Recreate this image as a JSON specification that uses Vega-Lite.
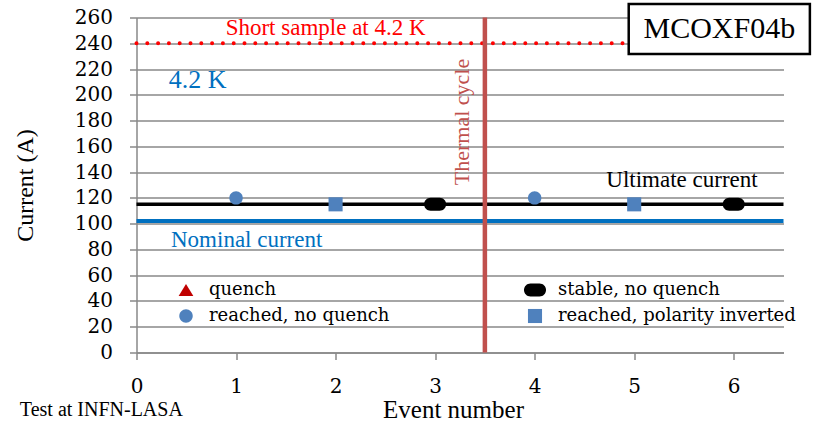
{
  "$schema": "https://vega.github.io/schema/vega-lite/v6.json",
  "width": 647,
  "height": 335,
  "autosize": {"type": "none"},
  "padding": {"left": 136.5, "top": 17.5, "right": 35.5, "bottom": 70.5},
  "background": "white",
  "config": {
    "view": {"stroke": null},
    "font": "Liberation Serif",
    "text": {"font": "Liberation Serif"},
    "axis": {"labelFont": "DejaVu Serif", "labelFontSize": 20},
    "legend": {"labelFont": "DejaVu Serif", "labelFontSize": 18}
  },
  "encoding": {
    "x": {
      "field": "event", "type": "quantitative",
      "scale": {"domain": [0, 6.5], "nice": false, "zero": false},
      "axis": {
        "tickCount": 7, "grid": false, "labelFlush": false, "format": "d",
        "labelFontSize": 20, "labelColor": "black", "labelPadding": 17,
        "domainColor": "#898989", "domainWidth": 1.5, "tickColor": "#898989", "tickWidth": 1.5, "tickSize": 7,
        "title": "Event number", "titleFont": "Liberation Serif", "titleFontSize": 25, "titleFontWeight": "normal", "titleColor": "black",
        "titleX": 316.5, "titleY": 57, "titleBaseline": "middle", "titleAlign": "center"
      }
    },
    "y": {
      "field": "current", "type": "quantitative",
      "scale": {"domain": [0, 260], "nice": false, "zero": true},
      "axis": {
        "tickCount": 13, "grid": true, "labelOverlap": false, "format": "d",
        "labelFontSize": 20, "labelColor": "black", "labelPadding": 17,
        "domainColor": "#898989", "domainWidth": 1.5, "tickColor": "#898989", "tickWidth": 1.5, "tickSize": 7,
        "gridColor": "#898989", "gridWidth": 1.5,
        "title": "Current (A)", "titleFont": "Liberation Serif", "titleFontSize": 24, "titleFontWeight": "normal", "titleColor": "black",
        "titleX": -111, "titleY": 167.5, "titleBaseline": "middle", "titleAngle": -90
      }
    }
  },
  "layer": [
    {
      "data": {"values": [{"event": 0, "event2": 6.5, "current": 240}]},
      "mark": {"type": "rule", "color": "#ff0000", "strokeWidth": 4, "strokeDash": [0, 10.8], "strokeCap": "round"},
      "encoding": {"x2": {"field": "event2"}}
    },
    {
      "data": {"values": [{"event": 0, "event2": 6.5, "current": 115}]},
      "mark": {"type": "rule", "color": "#000000", "strokeWidth": 3.5},
      "encoding": {"x2": {"field": "event2"}}
    },
    {
      "data": {"values": [{"event": 0, "event2": 6.5, "current": 102}]},
      "mark": {"type": "rule", "color": "#0070c0", "strokeWidth": 4},
      "encoding": {"x2": {"field": "event2"}}
    },
    {
      "data": {"values": [{"event": 3.5, "current": 0, "current2": 260}]},
      "mark": {"type": "rule", "color": "#c0504d", "strokeWidth": 4.5},
      "encoding": {"y2": {"field": "current2"}}
    },
    {
      "data": {"values": [
        {"event": 1, "current": 120, "type": "reached, no quench"},
        {"event": 2, "current": 115, "type": "reached, polarity inverted"},
        {"event": 3, "current": 115, "type": "stable, no quench"},
        {"event": 4, "current": 120, "type": "reached, no quench"},
        {"event": 5, "current": 115, "type": "reached, polarity inverted"},
        {"event": 6, "current": 115, "type": "stable, no quench"}
      ]},
      "mark": {"type": "point", "filled": true, "opacity": 1, "size": 150, "strokeWidth": 0},
      "encoding": {
        "shape": {
          "field": "type", "type": "nominal",
          "scale": {
            "domain": ["quench", "reached, no quench", "stable, no quench", "reached, polarity inverted"],
            "range": [
              "M0,-1L1.2,1L-1.2,1Z",
              "M-1.1,0A1.1,1.1 0 1 0 1.1,0A1.1,1.1 0 1 0 -1.1,0Z",
              "M-0.74,-1.06L0.74,-1.06A1.06,1.06 0 0 1 0.74,1.06L-0.74,1.06A1.06,1.06 0 0 1 -0.74,-1.06Z",
              "M-1.15,-1.15L1.15,-1.15L1.15,1.15L-1.15,1.15Z"
            ]
          },
          "legend": {
            "title": null, "orient": "none", "legendX": 40.5, "legendY": 263.5, "columns": 2,
            "columnPadding": 133, "rowPadding": 8, "padding": 0,
            "labelFontSize": 18, "labelColor": "black", "labelLimit": 400,
            "symbolSize": 150, "labelOffset": 14, "symbolStrokeWidth": 0
          }
        },
        "color": {
          "field": "type", "type": "nominal",
          "scale": {
            "domain": ["quench", "reached, no quench", "stable, no quench", "reached, polarity inverted"],
            "range": ["#c00000", "#4f81bd", "#000000", "#4f81bd"]
          },
          "legend": {
            "title": null, "orient": "none", "legendX": 40.5, "legendY": 263.5, "columns": 2,
            "columnPadding": 133, "rowPadding": 8, "padding": 0,
            "labelFontSize": 18, "labelColor": "black", "labelLimit": 400,
            "symbolSize": 150, "labelOffset": 14, "symbolStrokeWidth": 0
          }
        }
      }
    },
    {
      "data": {"values": [{"event": 1.9, "current": 251.9, "label": "Short sample at 4.2 K"}]},
      "mark": {"type": "text", "font": "Liberation Serif", "fontSize": 23, "color": "#ff0000", "baseline": "middle", "align": "center"},
      "encoding": {"text": {"field": "label"}}
    },
    {
      "data": {"values": [{"event": 0.614, "current": 211.5, "label": "4.2 K"}]},
      "mark": {"type": "text", "font": "Liberation Serif", "fontSize": 26, "color": "#0070c0", "baseline": "middle", "align": "center"},
      "encoding": {"text": {"field": "label"}}
    },
    {
      "data": {"values": [{"event": 1.107, "current": 87.4, "label": "Nominal current"}]},
      "mark": {"type": "text", "font": "Liberation Serif", "fontSize": 23, "color": "#0070c0", "baseline": "middle", "align": "center"},
      "encoding": {"text": {"field": "label"}}
    },
    {
      "data": {"values": [{"event": 5.48, "current": 134, "label": "Ultimate current"}]},
      "mark": {"type": "text", "font": "Liberation Serif", "fontSize": 23, "color": "#000000", "baseline": "middle", "align": "center"},
      "encoding": {"text": {"field": "label"}}
    },
    {
      "data": {"values": [{"event": 3.275, "current": 178.9, "label": "Thermal cycle"}]},
      "mark": {"type": "text", "font": "Liberation Serif", "fontSize": 22, "color": "#c0504d", "baseline": "middle", "align": "center", "angle": 270},
      "encoding": {"text": {"field": "label"}}
    },
    {
      "data": {"values": [{"event": -1.172, "current": -44.5, "label": "Test at INFN-LASA"}]},
      "mark": {"type": "text", "font": "Liberation Serif", "fontSize": 20, "color": "#000000", "baseline": "middle", "align": "left"},
      "encoding": {"text": {"field": "label"}}
    },
    {
      "data": {"values": [{"event": 4.945, "event2": 6.765, "current": 231.7, "current2": 270.5}]},
      "mark": {"type": "rect", "fill": "white", "stroke": "black", "strokeWidth": 2.5},
      "encoding": {"x2": {"field": "event2"}, "y2": {"field": "current2"}}
    },
    {
      "data": {"values": [{"event": 5.855, "current": 251.1, "label": "MCOXF04b"}]},
      "mark": {"type": "text", "font": "Liberation Serif", "fontSize": 30, "color": "#000000", "baseline": "middle", "align": "center"},
      "encoding": {"text": {"field": "label"}}
    }
  ]
}
